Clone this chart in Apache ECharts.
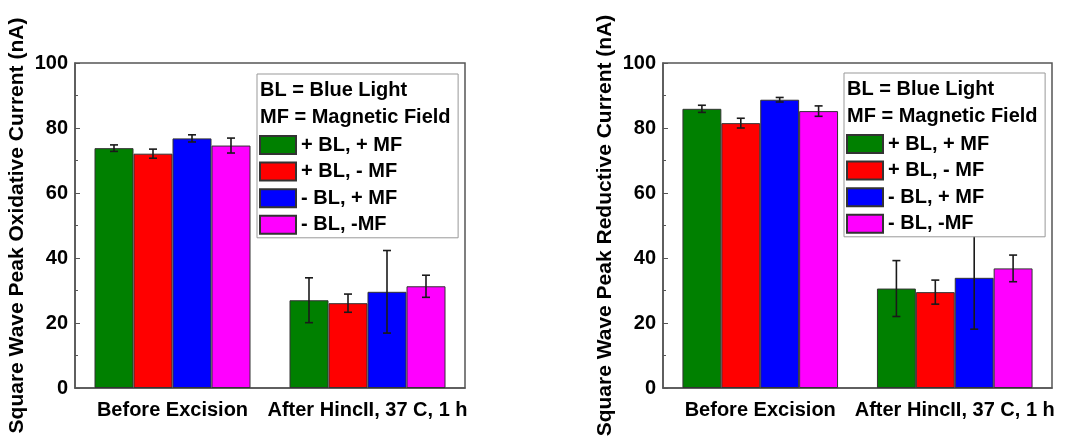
<!DOCTYPE html>
<html>
<head>
<meta charset="utf-8">
<script src="https://cdn.jsdelivr.net/npm/echarts@6/dist/echarts.min.js"></script>
<style>
html,body{margin:0;padding:0;background:#fff;}
#chart{width:1081px;height:440px;}
</style>
</head>
<body>
<div id="chart"></div>
<script>
// ---- data ----
var categories = ['Before Excision', 'After HincII, 37 C, 1 h'];
var seriesNames = ['+ BL, + MF', '+ BL, - MF', '- BL, + MF', '- BL, -MF'];
var seriesColors = ['#008000', '#ff0000', '#0000ff', '#ff00ff'];
var yTicks = [0, 20, 40, 60, 80, 100];
var noteLines = ['BL = Blue Light', 'MF = Magnetic Field'];

// Oxidative (left)
var oxGreen = [73.8, 27.0];
var oxRed = [72.1, 26.1];
var oxBlue = [76.8, 29.6];
var oxMagenta = [74.6, 31.3];
var oxGreenErr = [1.0, 6.9];
var oxRedErr = [1.4, 2.8];
var oxBlueErr = [1.1, 12.7];
var oxMagentaErr = [2.3, 3.4];

// Reductive (right)
var reGreen = [85.9, 30.6];
var reRed = [81.5, 29.5];
var reBlue = [88.7, 33.9];
var reMagenta = [85.2, 36.8];
var reGreenErr = [1.1, 8.6];
var reRedErr = [1.5, 3.7];
var reBlueErr = [0.7, 15.8];
var reMagentaErr = [1.6, 4.1];

var yNames = ['Square Wave Peak Oxidative Current (nA)', 'Square Wave Peak Reductive Current (nA)'];

// ---- chart ----
var FONT = '"Liberation Sans", Arial, sans-serif';
var chart = echarts.init(document.getElementById('chart'));

var oxMeans = [oxGreen, oxRed, oxBlue, oxMagenta];
var oxErrs = [oxGreenErr, oxRedErr, oxBlueErr, oxMagentaErr];
var reMeans = [reGreen, reRed, reBlue, reMagenta];
var reErrs = [reGreenErr, reRedErr, reBlueErr, reMagentaErr];

var CAT_FILL = 0.8;

function errSeries(g, means, errs, s) {
  return {
    type: 'custom',
    xAxisIndex: g, yAxisIndex: g,
    z: 3,
    silent: true,
    data: means.map(function (m, i) { return [i, m - errs[i], m + errs[i]]; }),
    renderItem: function (params, api) {
      var c = api.value(0);
      var lo = api.coord([c, api.value(1)]);
      var hi = api.coord([c, api.value(2)]);
      var band = api.size([1, 0])[0];
      var bw = band * CAT_FILL / seriesNames.length;
      var x = lo[0] + (s - (seriesNames.length - 1) / 2) * bw;
      var cap = 4;
      var st = { stroke: '#1a1a1a', lineWidth: 1.6 };
      return {
        type: 'group',
        children: [
          { type: 'line', shape: { x1: x, y1: lo[1], x2: x, y2: hi[1] }, style: st },
          { type: 'line', shape: { x1: x - cap, y1: lo[1], x2: x + cap, y2: lo[1] }, style: st },
          { type: 'line', shape: { x1: x - cap, y1: hi[1], x2: x + cap, y2: hi[1] }, style: st }
        ]
      };
    }
  };
}

var series = [];
[[oxMeans, oxErrs], [reMeans, reErrs]].forEach(function (pair, g) {
  pair[0].forEach(function (vals, s) {
    series.push({
      type: 'bar',
      name: seriesNames[s],
      xAxisIndex: g, yAxisIndex: g,
      data: vals,
      barGap: '0%',
      barCategoryGap: '20%',
      itemStyle: { color: seriesColors[s], borderColor: '#333', borderWidth: 1 },
      z: 2
    });
  });
  pair[0].forEach(function (vals, s) {
    series.push(errSeries(g, vals, pair[1][s], s));
  });
});

var grids = [
  { left: 75, right: 616, top: 63, bottom: 52 },
  { left: 663, right: 29, top: 63, bottom: 52 }
];

function xAxis(g) {
  return {
    type: 'category', gridIndex: g, data: categories,
    axisLine: { show: true, lineStyle: { color: '#555', width: 1.5 } },
    axisTick: { show: false },
    axisLabel: { color: '#000', fontSize: 20, fontWeight: 'bold', fontFamily: FONT, margin: 12, interval: 0 }
  };
}
function yAxis(g) {
  return {
    type: 'value', gridIndex: g, min: yTicks[0], max: yTicks[yTicks.length - 1], interval: 20,
    name: yNames[g], nameLocation: 'middle', nameGap: 47,
    nameTextStyle: { color: '#000', fontSize: 21, fontWeight: 'bold', fontFamily: FONT },
    axisLine: { show: true, lineStyle: { color: '#555', width: 1.5 } },
    axisTick: { show: true, inside: true, length: 5, lineStyle: { color: '#555', width: 1 } },
    minorTick: { show: true, splitNumber: 2, length: 3, lineStyle: { color: '#555', width: 1 } },
    splitLine: { show: false },
    axisLabel: { color: '#000', fontSize: 20, fontWeight: 'bold', fontFamily: FONT, margin: 7 }
  };
}

function legend(left, top) {
  return {
    data: seriesNames.map(function (n) { return { name: n, icon: 'rect' }; }),
    orient: 'vertical',
    left: left, top: top,
    padding: [61, 56, 3, 2],
    itemWidth: 36, itemHeight: 18, itemGap: 6.6,
    backgroundColor: '#fff',
    borderColor: '#999', borderWidth: 1,
    borderRadius: 0,
    z: 10,
    selectedMode: false,
    textStyle: { color: '#000', fontSize: 20, fontWeight: 'bold', fontFamily: FONT }
  };
}
function note(left, top) {
  return {
    text: noteLines.join('\n'),
    left: left, top: top, padding: 0, z: 12,
    textStyle: { color: '#000', fontSize: 20, fontWeight: 'bold', fontFamily: FONT, lineHeight: 27 }
  };
}

chart.setOption({
  animation: false,
  backgroundColor: '#fff',
  grid: grids.map(function (g) {
    return Object.assign({ show: true, borderColor: '#555', borderWidth: 1.5, backgroundColor: 'transparent' }, g);
  }),
  xAxis: [xAxis(0), xAxis(1)],
  yAxis: [yAxis(0), yAxis(1)],
  legend: [legend(257, 74), legend(844, 73)],
  title: [note(260, 76.5), note(847, 75.6)],
  series: series
});
</script>
</body>
</html>
